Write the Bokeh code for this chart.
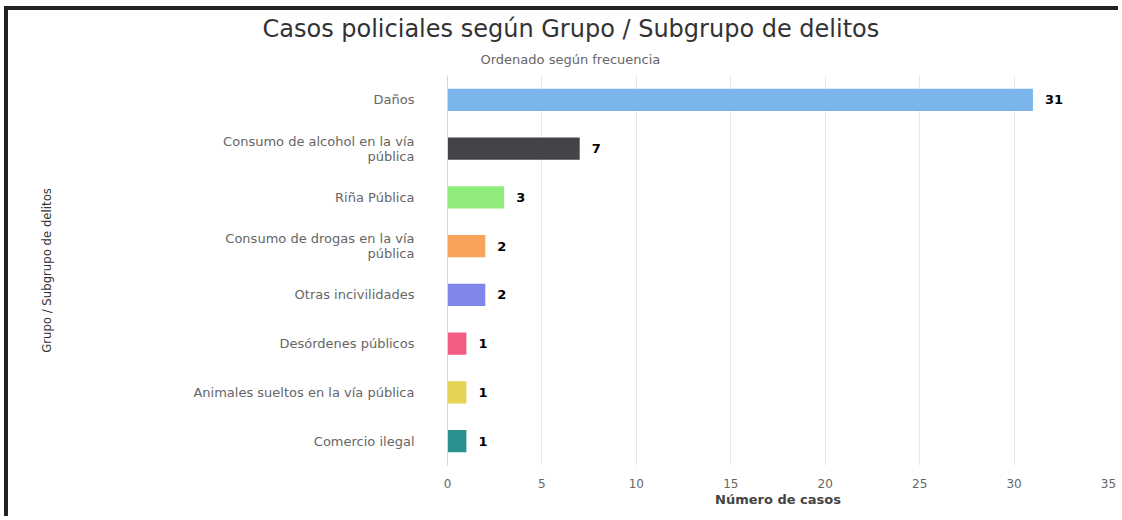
from bokeh.plotting import figure
from bokeh.models import ColumnDataSource, FactorRange, Range1d, FixedTicker, Title
from bokeh.core.properties import value
from bokeh.embed import file_html
from bokeh.resources import INLINE

categories = [
    "Daños",
    "Consumo de alcohol en la vía\npública",
    "Riña Pública",
    "Consumo de drogas en la vía\npública",
    "Otras incivilidades",
    "Desórdenes públicos",
    "Animales sueltos en la vía pública",
    "Comercio ilegal",
]
counts = [31, 7, 3, 2, 2, 1, 1, 1]
colors = ["#7cb5ec", "#434348", "#90ed7d", "#f7a35c", "#8085e9", "#f15c80", "#e4d354", "#2b908f"]
x_ticks = [0, 5, 10, 15, 20, 25, 30, 35]

title_text = "Casos policiales según Grupo / Subgrupo de delitos"
subtitle_text = "Ordenado según frecuencia"
x_label = "Número de casos"
y_label = "Grupo / Subgrupo de delitos"

src = ColumnDataSource(dict(cat=categories, n=counts, color=colors,
                            lbl=[str(v) for v in counts]))

p = figure(width=1114, height=510, output_backend="svg", toolbar_location=None,
           y_range=FactorRange(factors=list(reversed(categories)), range_padding=0),
           x_range=Range1d(0, 35), min_border_left=439, min_border_right=14,
           min_border_top=65, min_border_bottom=55)
p.styles = {"border-top": "4px solid #222222", "border-left": "4px solid #222222",
            "margin-top": "6px", "margin-left": "4px"}
p.outline_line_color = None
p.background_fill_color = "white"
p.border_fill_color = "white"

# main title (outermost) and subtitle (closest to the frame)
p.title.text = title_text
p.title.align = "left"
p.title.offset = -185
p.title.standoff = 3
p.title.text_font = "DejaVu Sans"
p.title.text_font_size = "24px"
p.title.text_font_style = "normal"
p.title.text_color = "#333333"
p.add_layout(Title(text=subtitle_text, align="left", offset=33, vertical_align="top",
                   standoff=14, text_font="DejaVu Sans", text_font_size="13px",
                   text_font_style="normal", text_color="#666666"),
             "above")

p.hbar(y="cat", right="n", left=0, height=0.46, color="color", source=src, line_color=None)
p.text(x="n", y="cat", text="lbl", source=src, x_offset=12, text_align="left",
       text_baseline="middle", text_font=value("DejaVu Sans"), text_font_style="bold",
       text_font_size="13px", text_color="#000000")

xa = p.xaxis[0]
xa.ticker = FixedTicker(ticks=x_ticks)
xa.axis_line_color = None
xa.major_tick_line_color = None
xa.minor_tick_line_color = None
xa.major_label_text_font = "DejaVu Sans"
xa.major_label_text_font_size = "12px"
xa.major_label_text_color = "#666666"
xa.major_label_standoff = 7
xa.axis_label = x_label
xa.axis_label_text_font = "DejaVu Sans"
xa.axis_label_text_font_size = "13px"
xa.axis_label_text_font_style = "bold"
xa.axis_label_text_color = "#444444"
xa.axis_label_standoff = 1

ya = p.yaxis[0]
ya.axis_line_color = "#ccd6eb"
ya.major_tick_line_color = None
ya.minor_tick_line_color = None
ya.major_label_text_font = "DejaVu Sans"
ya.major_label_text_font_size = "13px"
ya.major_label_text_line_height = 1.0
ya.major_label_text_color = "#666666"
ya.major_label_standoff = 27
ya.axis_label = y_label
ya.axis_label_text_font = "DejaVu Sans Condensed"
ya.axis_label_text_font_size = "13px"
ya.axis_label_text_font_style = "normal"
ya.axis_label_text_color = "#333333"
ya.axis_label_standoff = 136

p.ygrid.grid_line_color = None
p.xgrid.grid_line_color = "#e6e6e6"
p.xgrid.ticker = FixedTicker(ticks=x_ticks)

open("out.html", "w").write(file_html(p, INLINE))
